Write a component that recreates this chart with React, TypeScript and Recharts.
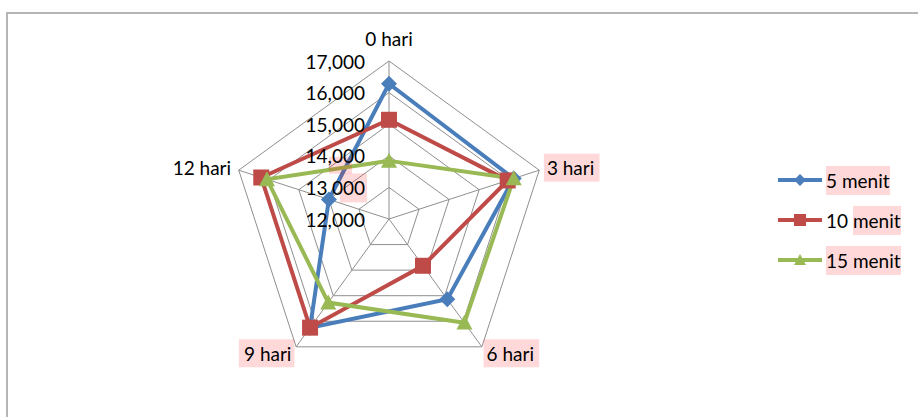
import { RadarChart, Radar, PolarGrid, PolarAngleAxis, PolarRadiusAxis, Legend } from 'recharts'

const categories = ['0 hari', '3 hari', '6 hari', '9 hari', '12 hari']
const menit5 = [16280, 16150, 15140, 16250, 14000]
const menit10 = [15140, 15950, 13830, 16250, 16250]
const menit15 = [13840, 16150, 16060, 15270, 16060]
const radiusTicks = [12000, 13000, 14000, 15000, 16000, 17000]
const seriesNames = ['5 menit', '10 menit', '15 menit']

const data = categories.map((hari, i) => ({
  hari,
  m5: menit5[i],
  m10: menit10[i],
  m15: menit15[i],
}))

const FONT = 'Lato, "Open Sans", sans-serif'
const FONT_SIZE = 19
const PINK = 'rgba(255, 0, 0, 0.15)'
const CX = 389
const CY = 219

const series = [
  { key: 'm5', name: seriesNames[0], color: '#4a7ebb', shape: 'diamond' },
  { key: 'm10', name: seriesNames[1], color: '#be4b48', shape: 'square' },
  { key: 'm15', name: seriesNames[2], color: '#98b954', shape: 'triangle' },
]

// the odd pink marks that sit on some labels in the original
const pinkAngleLabels = ['3 hari', '6 hari', '9 hari']

function Marker({ shape, x, y, size, color }: any) {
  const h = size / 2
  if (shape === 'diamond') {
    return <polygon points={`${x},${y - h} ${x + h},${y} ${x},${y + h} ${x - h},${y}`} fill={color} />
  }
  if (shape === 'square') {
    return <rect x={x - h} y={y - h} width={size} height={size} fill={color} />
  }
  return <polygon points={`${x},${y - h} ${x + h},${y + h * 0.85} ${x - h},${y + h * 0.85}`} fill={color} />
}

function AngleTick(props: any) {
  const { x, y, payload } = props
  const label = String(payload.value)
  const dx = x - CX
  let anchor: 'start' | 'middle' | 'end' = 'middle'
  let ty = y
  if (Math.abs(dx) < 1) ty = y - 15
  else anchor = dx > 0 ? 'start' : 'end'
  const w = label.length * 8.6
  const left = anchor === 'start' ? x - 3 : anchor === 'end' ? x - w - 1 : x - w / 2
  return (
    <g>
      {pinkAngleLabels.includes(label) && (
        <rect x={left} y={ty - 14} width={w + 4} height={28} fill={PINK} />
      )}
      <text
        x={x}
        y={ty}
        textAnchor={anchor}
        dominantBaseline="central"
        fontFamily={FONT}
        fontSize={FONT_SIZE}
        fill="#000"
      >
        {label}
      </text>
    </g>
  )
}

function RadiusTick(props: any) {
  const { x, y, payload } = props
  const v = Number(payload.value)
  return (
    <g>
      {v === 14000 && <rect x={x - 60} y={y + 1} width={23} height={17} fill={PINK} />}
      {v === 13000 && <rect x={x - 49} y={y - 14} width={27} height={29} fill={PINK} />}
      <text
        x={x - 24}
        y={y}
        textAnchor="end"
        dominantBaseline="central"
        fontFamily={FONT}
        fontSize={FONT_SIZE}
        fill="#000"
      >
        {v.toLocaleString('en-US')}
      </text>
    </g>
  )
}

function LegendBox() {
  return (
    <div style={{ fontFamily: FONT, fontSize: FONT_SIZE, color: '#000' }}>
      {series.map((s, i) => {
        const parts = s.name.split(' ')
        return (
          <div key={s.key} style={{ display: 'flex', alignItems: 'center', height: 40 }}>
            <svg width={48} height={20} style={{ display: 'block' }}>
              <line x1={2} y1={10} x2={46} y2={10} stroke={s.color} strokeWidth={4} />
              <Marker shape={s.shape} x={24} y={10} size={i === 0 ? 12 : 12} color={s.color} />
            </svg>
            <span style={{ marginLeft: 2, whiteSpace: 'nowrap' }}>
              {i === 1 ? (
                <>
                  {parts[0]}{' '}
                  <span style={{ background: PINK, padding: '3px 0' }}>{parts[1]}</span>
                </>
              ) : (
                <span style={{ background: PINK, padding: '3px 0' }}>{s.name}</span>
              )}
            </span>
          </div>
        )
      })}
    </div>
  )
}

export default function App() {
  return (
    <div style={{ position: 'fixed', left: 0, top: 0, width: 918, height: 417, overflow: 'hidden', background: '#fff' }}>
      <div
        style={{
          position: 'absolute',
          left: 6,
          top: 12,
          width: 2000,
          height: 1000,
          border: '2px solid #b5b5b5',
        }}
      />
      <div style={{ position: 'absolute', left: 0, top: 0 }}>
        <RadarChart width={918} height={417} data={data} cx={CX} cy={CY} outerRadius={158}>
          <PolarGrid stroke="#8f8f8f" strokeWidth={1} />
          <PolarAngleAxis dataKey="hari" tick={<AngleTick />} tickLine={false} axisLine={false} />
          <PolarRadiusAxis
            angle={90}
            domain={[12000, 17000]}
            ticks={radiusTicks}
            tickCount={6}
            axisLine={false}
            tickLine={false}
            tick={<RadiusTick />}
          />
          {series.map((s) => (
            <Radar
              key={s.key}
              name={s.name}
              dataKey={s.key}
              stroke={s.color}
              strokeWidth={4}
              fill="none"
              fillOpacity={0}
              isAnimationActive={false}
              dot={(p: any) => (
                <Marker key={`${s.key}-${p.index}`} shape={s.shape} x={p.cx} y={p.cy} size={16} color={s.color} />
              )}
            />
          ))}
          <Legend
            layout="vertical"
            content={<LegendBox />}
            wrapperStyle={{ position: 'absolute', left: 776, top: 160, width: 140 }}
          />
        </RadarChart>
      </div>
    </div>
  )
}
